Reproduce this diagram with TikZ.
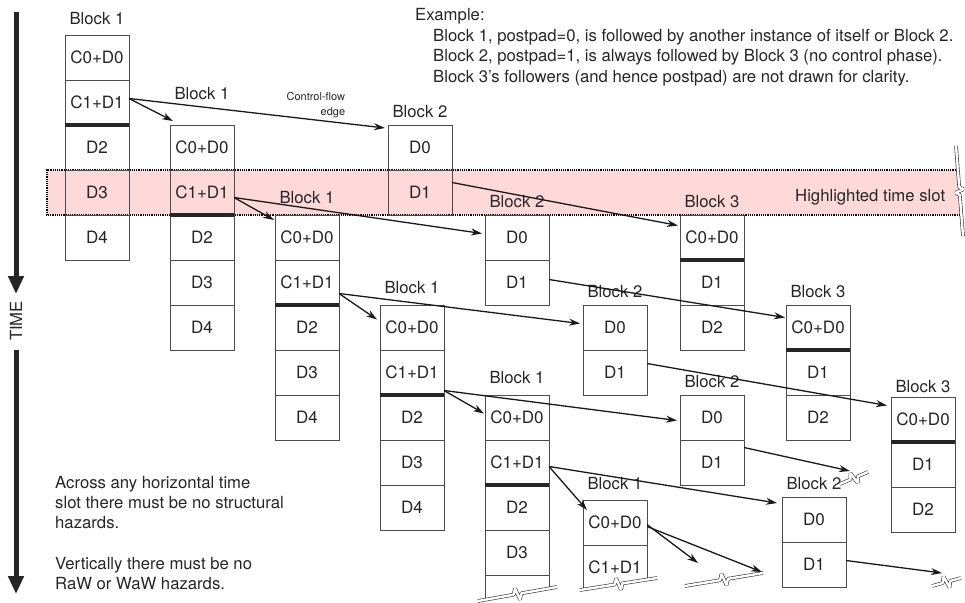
\documentclass[tikz,border=0pt]{standalone}
\usepackage{fontspec}
\setmainfont{TeX Gyre Heros}
\usetikzlibrary{arrows.meta,positioning}

\begin{document}
\begin{tikzpicture}[x=1pt,y=-1pt,
    font=\fontsize{16.7}{20.3}\selectfont,
    every node/.style={text=black!85},
    node distance=0pt,
    cell/.style={draw=black!70,line width=0.9pt,minimum width=64pt,minimum height=45pt,
      inner sep=0pt,outer sep=0pt,font=\fontsize{17}{20}\selectfont},
    cellside/.style={draw=black!70,line width=0.9pt},
    blk/.style={inner sep=0pt},
    ctrl/.style={line width=4pt,black!85},
    flow/.style={-{Stealth[length=11pt,width=7pt]},line width=1.3pt,black!90},
    brk/.style={draw=black!80,double=white,double distance=2.4pt,line width=0.6pt,line join=bevel},
    timeaxis/.style={-{Triangle[length=18pt,width=15pt]},line width=5pt,black!85},
    txt/.style={inner sep=0pt,align=left}]

  \useasboundingbox (0,0) rectangle (965,602);

  % highlighted time slot
  \fill[red!15] (47,170) -- (958,170) -- (959.2,187) -- (963.4,189.2) -- (955.6,192.8)
    -- (959.8,195) -- (961.3,215) -- (47,215) -- cycle;
  \draw[densely dotted,line width=1.2pt] (958,170) -- (47,170) -- (47,215) -- (961,215);
  \draw[brk] (956,146) -- (959.2,187) -- (963.4,189.2) -- (955.6,192.8) -- (959.8,195) -- (963,236);
  \node[blk,anchor=base west] (slot) at (795,201.5) {Highlighted time slot};

  % time axis
  \coordinate (t0) at (16,12);
  \coordinate (t1) at (16,294);
  \coordinate (t2) at (16,350);
  \coordinate (t3) at (16,594);
  \draw[timeaxis] (t0) -- (t1);
  \node[rotate=90] (time) at (16,321) {TIME};
  \draw[timeaxis] (t2) -- (t3);

  % Block 1 instances
  \foreach \n/\x/\y/\g in {a/65/35/10pt, b/170/125/25pt, c/275/215/11pt, d/380/305/11pt}{
    \node[cell,anchor=north west] (b1\n-0) at (\x,\y) {C0+D0};
    \node[cell,below=of b1\n-0] (b1\n-1) {C1+D1};
    \node[cell,below=of b1\n-1] (b1\n-2) {D2};
    \node[cell,below=of b1\n-2] (b1\n-3) {D3};
    \node[cell,below=of b1\n-3] (b1\n-4) {D4};
    \draw[ctrl] (b1\n-1.south west) -- (b1\n-1.south east);
    \node[blk,above=\g of b1\n-0] (b1\n-lbl) {Block 1};
  }

  \node[cell,anchor=north west] (b1e-0) at (485,395) {C0+D0};
  \node[cell,below=of b1e-0] (b1e-1) {C1+D1};
  \node[cell,below=of b1e-1] (b1e-2) {D2};
  \node[cell,below=of b1e-2] (b1e-3) {D3};
  \node[cell,draw=none,below=of b1e-3] (b1e-4) {};
  \draw[ctrl] (b1e-1.south west) -- (b1e-1.south east);
  \draw[cellside] (b1e-4.north west) -- ++(0,25);
  \draw[cellside] (b1e-4.north east) -- ++(0,14);
  \node[blk,above=11pt of b1e-0] (b1e-lbl) {Block 1};

  \node[cell,anchor=north west] (b1f-0) at (583,500) {C0+D0};
  \node[cell,draw=none,below=of b1f-0] (b1f-1) {C1+D1};
  \draw[cellside] (b1f-1.north west) -- ++(0,45);
  \draw[cellside] (b1f-1.north east) -- ++(0,35);
  \node[blk,above=10pt of b1f-0] (b1f-lbl) {Block 1};

  % Block 2 instances
  \foreach \n/\x/\y in {a/388/125, b/485/215, c/583/305, d/680/395, e/782/497}{
    \node[cell,anchor=north west] (b2\n-0) at (\x,\y) {D0};
    \node[cell,below=of b2\n-0] (b2\n-1) {D1};
    \node[blk,above=7pt of b2\n-0] (b2\n-lbl) {Block 2};
  }

  % Block 3 instances
  \foreach \n/\x/\y/\g in {a/680/215/7pt, b/786/305/7pt, c/891/397/4pt}{
    \node[cell,anchor=north west] (b3\n-0) at (\x,\y) {C0+D0};
    \node[cell,below=of b3\n-0] (b3\n-1) {D1};
    \node[cell,below=of b3\n-1] (b3\n-2) {D2};
    \draw[ctrl] (b3\n-0.south west) -- (b3\n-0.south east);
    \node[blk,above=\g of b3\n-0] (b3\n-lbl) {Block 3};
  }

  % control-flow edges
  \draw[flow] ([yshift=4pt]b1a-1.east) -- ([xshift=3pt,yshift=4pt]b1b-0.north west);
  \draw[flow] ([yshift=4pt]b1a-1.east) -- node[pos=0.73,above,align=right,inner sep=1pt,
      font=\fontsize{11}{15}\selectfont] (cfe) {Control-flow\\edge}
    ([xshift=-3pt,yshift=-3pt]b2a-0.north west);
  \draw[flow] ([yshift=10pt]b2a-1.east) -- ([xshift=-2pt,yshift=12pt]b3a-0.west);

  \draw[flow] ([yshift=-5pt]b1b-1.east) -- ([xshift=-1pt,yshift=-5pt]b1c-0.north west);
  \draw[flow] ([yshift=-5pt]b1b-1.east) -- ([xshift=-3pt,yshift=4pt]b2b-0.west);
  \draw[flow] ([yshift=3pt]b2b-1.east) -- ([xshift=-1pt,yshift=10pt]b3b-0.west);

  \draw[flow] ([yshift=-11pt]b1c-1.east) -- ([xshift=-3pt,yshift=8pt]b1d-0.west);
  \draw[flow] ([yshift=-11pt]b1c-1.east) -- ([xshift=-3pt,yshift=4pt]b2c-0.west);
  \draw[flow] ([yshift=9pt]b2c-1.east) -- ([xshift=-4pt,yshift=14pt]b3c-0.west);

  \draw[flow] ([yshift=-18pt]b1d-1.east) -- ([xshift=-1pt,yshift=4pt]b1e-0.west);
  \draw[flow] ([yshift=-18pt]b1d-1.east) -- ([xshift=-3pt,yshift=-3pt]b2d-0.west);
  \coordinate (b2d-out) at (850,471);
  \draw[flow] ([yshift=15pt]b2d-1.east) -- (b2d-out);

  \draw[flow] ([yshift=-4pt]b1e-1.east) -- ([xshift=4pt,yshift=-10pt]b1f-0.north west);
  \draw[flow] ([yshift=-4pt]b1e-1.east) -- ([xshift=-5pt,yshift=-6pt]b2e-0.north west);

  \coordinate (b1f-out1) at (698,563);
  \coordinate (b1f-out2) at (762,572);
  \draw[flow] ([yshift=-2pt]b1f-0.east) -- (b1f-out1);
  \draw[flow] ([yshift=-4pt]b1f-0.east) -- (b1f-out2);
  \coordinate (b2e-out) at (942,573);
  \draw[flow] ([yshift=4pt]b2e-1.east) -- (b2e-out);

  % break marks
  \draw[brk] (478,601) -- (513.6,594.7) -- (515,588.4) -- (520,599.7) -- (521.4,593.3) -- (557,587);
  \draw[brk] (580,590) -- (614.5,584.6) -- (616.1,578.3) -- (620.9,589.7) -- (622.5,583.4) -- (657,578);
  \draw[brk] (840,484) -- (850.3,479.6) -- (850.3,473.1) -- (857.7,482.9) -- (857.7,476.4) -- (868,472);
  \draw[brk] (685,586) -- (720.1,580.2) -- (721.5,573.8) -- (726.5,585.2) -- (727.9,578.8) -- (763,573);
  \draw[brk] (932,586) -- (942.6,583.1) -- (943.5,576.6) -- (949.5,587.4) -- (950.4,580.9) -- (961,578);

  % notes
  \node[blk,anchor=base west] (ex) at (415,20.75) {Example:};
  \node[txt,anchor=north west] (exbody) at (433,29)
    {Block 1, postpad=0, is followed by another instance of itself or Block 2.\\
     Block 2, postpad=1, is always followed by Block 3 (no control phase).\\
     Block 3’s followers (and hence postpad) are not drawn for clarity.};
  \node[txt,anchor=north west] (rules) at (55,476)
    {Across any horizontal time\\slot there must be no structural\\hazards.\\[20.3pt]
     Vertically there must be no\\RaW or WaW hazards.};
\end{tikzpicture}
\end{document}
